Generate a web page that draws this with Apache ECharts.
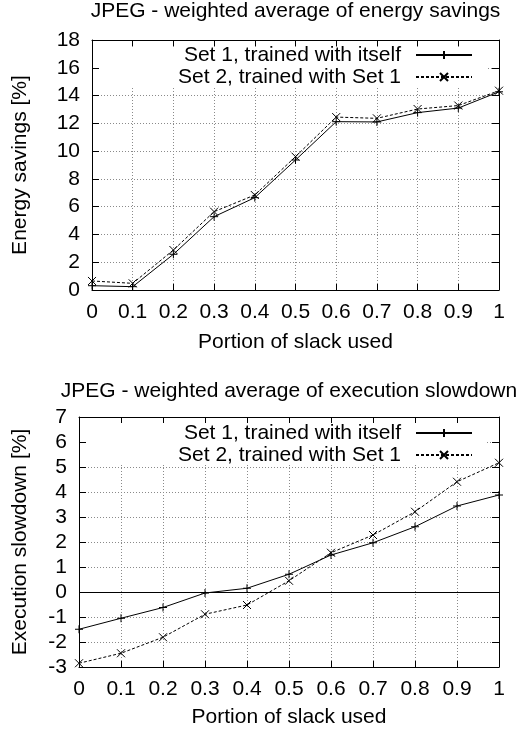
<!DOCTYPE html>
<html>
<head>
<meta charset="utf-8">
<script src="https://cdn.jsdelivr.net/npm/echarts@6/dist/echarts.min.js"></script>
<style>
html,body{margin:0;padding:0;background:#fff;}
#chart{width:517px;height:735px;}
</style>
</head>
<body>
<div id="chart"></div>
<script>
// ---- data ----
const slack = [0, 0.1, 0.2, 0.3, 0.4, 0.5, 0.6, 0.7, 0.8, 0.9, 1];
const seriesNames = ['Set 1, trained with itself', 'Set 2, trained with Set 1'];
const energySet1 = [0.31, 0.24, 2.57, 5.28, 6.65, 9.36, 12.12, 12.1, 12.77, 13.1, 14.27];
const energySet2 = [0.65, 0.48, 2.88, 5.64, 6.84, 9.6, 12.45, 12.36, 13.03, 13.28, 14.35];
const slowSet1 = [-1.49, -1.05, -0.62, -0.04, 0.15, 0.71, 1.48, 1.97, 2.61, 3.44, 3.88];
const slowSet2 = [-2.85, -2.45, -1.81, -0.89, -0.52, 0.45, 1.57, 2.28, 3.21, 4.41, 5.17];
const titles = ['JPEG - weighted average of energy savings', 'JPEG - weighted average of execution slowdown'];
const yNames = ['Energy savings [%]', 'Execution slowdown [%]'];
const xName = 'Portion of slack used';

const FONT = 'Liberation Sans, Arial, Helvetica, sans-serif';
const FS = 21;
const pairs = (xs, ys) => xs.map((x, i) => [x, ys[i]]);
const plusPath = 'path://M0,5L10,5M5,0L5,10';
const crossPath = 'path://M0,0L10,10M10,0L0,10';

const grids = [
  {left: 92, right: 18, top: 40, height: 250},
  {left: 79, right: 18, top: 417, height: 250}
];
const yRanges = [{min: 0, max: 18, interval: 2}, {min: -3, max: 7, interval: 1}];

const xAxes = [], yAxes = [];
grids.forEach((g, gi) => {
  xAxes.push({
    gridIndex: gi, type: 'value', position: 'bottom', min: 0, max: 1, interval: 0.1, z: 0,
    name: xName, nameLocation: 'middle', nameGap: gi === 0 ? 42 : 40,
    nameTextStyle: {fontFamily: FONT, fontSize: FS, color: '#000'},
    axisLine: {show: true, onZero: false, lineStyle: {color: '#000', width: 1}},
    axisTick: {show: true, inside: true, length: 6, lineStyle: {color: '#000'}},
    axisLabel: {margin: 12, fontFamily: FONT, fontSize: FS, color: '#000'},
    splitLine: {show: true, lineStyle: {color: '#8a8a8a', width: 1, type: [1, 2]}}
  });
  xAxes.push({
    gridIndex: gi, type: 'value', position: 'top', min: 0, max: 1, interval: 0.1, z: 8,
    axisLine: {show: true, onZero: false, lineStyle: {color: '#000', width: 1}},
    axisTick: {show: true, inside: true, length: 6, lineStyle: {color: '#000'}},
    axisLabel: {show: false}, splitLine: {show: false}
  });
  const r = yRanges[gi];
  yAxes.push({
    gridIndex: gi, type: 'value', position: 'left', min: r.min, max: r.max, interval: r.interval, z: 0,
    name: yNames[gi], nameLocation: 'middle', nameGap: gi === 0 ? 61.5 : 48.5,
    nameTextStyle: {fontFamily: FONT, fontSize: FS, color: '#000'},
    axisLine: {show: true, onZero: false, lineStyle: {color: '#000', width: 1}},
    axisTick: {show: true, inside: true, length: 7, lineStyle: {color: '#000'}},
    axisLabel: {margin: 12, fontFamily: FONT, fontSize: FS, color: '#000'},
    splitLine: {show: true, lineStyle: {color: '#8a8a8a', width: 1, type: [1, 2]}}
  });
  yAxes.push({
    gridIndex: gi, type: 'value', position: 'right', min: r.min, max: r.max, interval: r.interval, z: 8,
    axisLine: {show: true, onZero: false, lineStyle: {color: '#000', width: 1}},
    axisTick: {show: true, inside: true, length: 7, lineStyle: {color: '#000'}},
    axisLabel: {show: false}, splitLine: {show: false}
  });
});

function mkSeries(name, gi, ys, dashed, extra) {
  return Object.assign({
    name: name, type: 'line', xAxisIndex: gi * 2, yAxisIndex: gi * 2,
    data: pairs(slack, ys),
    symbol: dashed ? crossPath : plusPath, symbolSize: 8, showSymbol: true, showAllSymbol: true,
    lineStyle: {color: '#000', width: 1, type: dashed ? [3, 2] : 'solid'},
    itemStyle: {color: 'rgba(0,0,0,0)', borderColor: '#000', borderWidth: 1},
    emphasis: {disabled: true}, animation: false, z: 6
  }, extra || {});
}

const series = [
  mkSeries(seriesNames[0], 0, energySet1, false),
  mkSeries(seriesNames[1], 0, energySet2, true),
  mkSeries(seriesNames[0], 1, slowSet1, false, {
    markLine: {silent: true, symbol: 'none', label: {show: false}, animation: false,
      lineStyle: {color: '#000', type: 'solid', width: 1}, data: [{yAxis: 0}]}
  }),
  mkSeries(seriesNames[1], 1, slowSet2, true)
];

function mkLegend(top) {
  return {
    orient: 'vertical', align: 'right', right: 44, top: top,
    padding: 0, itemGap: 1, z: 7,
    itemWidth: 56, itemHeight: 10, selectedMode: false,
    data: seriesNames,
    textStyle: {fontFamily: FONT, fontSize: FS, color: '#000', padding: [0, 10, 0, 0]}
  };
}

// opaque key boxes (gnuplot "key opaque"): blank the grid behind each legend
const keyBoxes = [
  {x: 99, y: 47, w: 387, h: 41},
  {x: 87, y: 423, w: 399, h: 42}
];

const option = {
  backgroundColor: '#fff',
  animation: false,
  title: [
    {text: titles[0], left: 295.5, top: 0.5, padding: 0, textAlign: 'center',
     textStyle: {fontFamily: FONT, fontSize: FS, fontWeight: 'normal', color: '#000'}},
    {text: titles[1], left: 289, top: 381, padding: 0, textAlign: 'center',
     textStyle: {fontFamily: FONT, fontSize: FS, fontWeight: 'normal', color: '#000'}}
  ],
  legend: [mkLegend(44.5), mkLegend(422.5)],
  graphic: {elements: keyBoxes.map(b => ({
    type: 'rect', silent: true, z: 5, zlevel: 0,
    shape: {x: b.x, y: b.y, width: b.w, height: b.h},
    style: {fill: '#fff'}
  }))},
  grid: grids,
  xAxis: xAxes,
  yAxis: yAxes,
  series: series
};

const chart = echarts.init(document.getElementById('chart'), null, {renderer: 'canvas'});
chart.setOption(option);
</script>
</body>
</html>
